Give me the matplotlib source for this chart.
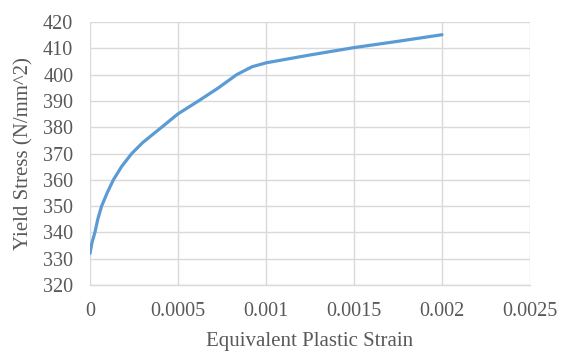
import matplotlib
matplotlib.use("Agg")
import matplotlib.pyplot as plt

# data
strain = [0, 0.000012, 0.000028, 0.000045, 0.000066, 0.0001, 0.000133, 0.00018, 0.000237,
          0.0003, 0.000407, 0.0005, 0.000616, 0.00073, 0.000833, 0.00092, 0.001,
          0.00125, 0.0015, 0.00175, 0.002]
stress = [332, 336.3, 340, 345.2, 350, 355.4, 360, 365.1, 370,
          374.2, 380, 385.1, 390, 395, 400, 403, 404.5,
          407.5, 410.3, 412.7, 415.2]

xticks = [0, 0.0005, 0.001, 0.0015, 0.002, 0.0025]
xtick_labels = ['0', '0.0005', '0.001', '0.0015', '0.002', '0.0025']
yticks = list(range(320, 421, 10))

text_color = '#595959'
grid_color = '#D9D9D9'

plt.rcParams['font.family'] = ['Liberation Serif', 'DejaVu Serif']

fig = plt.figure(figsize=(5.67, 3.51), dpi=100)
ax = fig.add_axes([0.1587, 0.188, 0.776, 0.749])

ax.plot(strain, stress, color='#5B9BD5', linewidth=2.3, solid_capstyle='round',
        solid_joinstyle='round', zorder=3)

ax.set_xlim(0, 0.0025)
ax.set_ylim(320, 420)
ax.set_xticks(xticks)
ax.set_xticklabels(xtick_labels)
ax.set_yticks(yticks)

ax.grid(True, color=grid_color, linewidth=1.0)
for side in ['top', 'right', 'left']:
    ax.spines[side].set_visible(False)
ax.spines['bottom'].set_color(grid_color)
ax.spines['bottom'].set_linewidth(1.0)

ax.tick_params(length=0, labelsize=14.5, colors=text_color)
ax.tick_params(axis='x', pad=12)
ax.tick_params(axis='y', pad=12)

ax.set_xlabel('Equivalent Plastic Strain', fontsize=15, color=text_color, labelpad=8)
ax.set_ylabel('Yield Stress (N/mm^2)', fontsize=15, color=text_color, labelpad=7)

fig.savefig('out.png', dpi=100)
